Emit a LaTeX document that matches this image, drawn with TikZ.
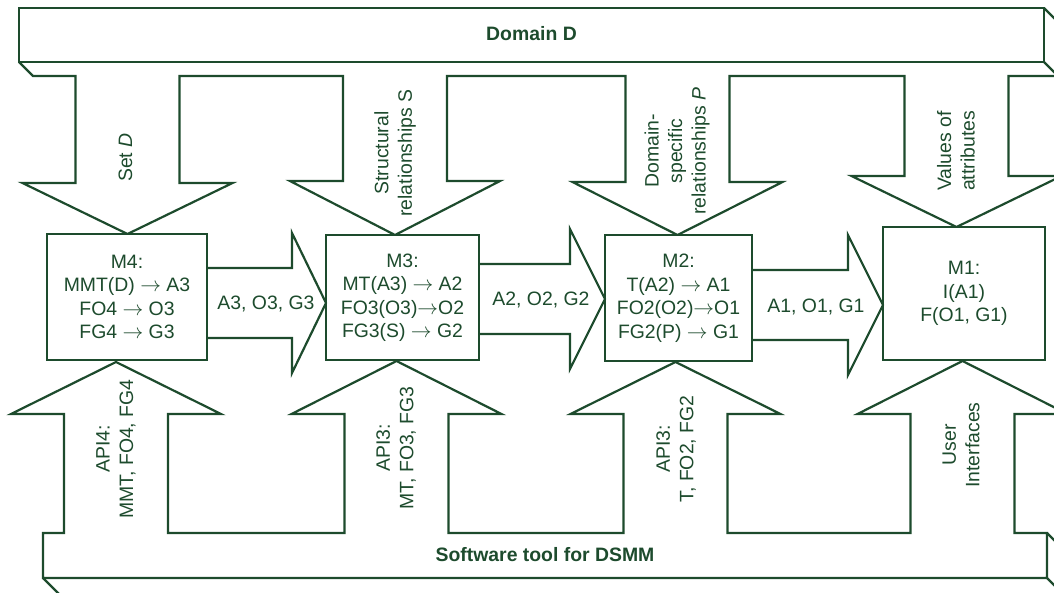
\documentclass[tikz,border=0pt]{standalone}
\usepackage{fontspec}
\setmainfont{Liberation Sans}
\usepackage{xcolor}
\usepackage{tikz}

\definecolor{dsgreen}{RGB}{29,75,45}
\newcommand{\gives}{$\rightarrow$}

\begin{document}
\begin{tikzpicture}[
  x=1pt, y=-1pt,
  line width=2.2pt,
  every node/.style={text=dsgreen,font=\fontsize{19.4}{23.5}\selectfont},
  module/.style={draw=dsgreen,line width=2.2pt,fill=white,align=center,inner sep=0pt},
  blockline/.style={draw=dsgreen,line join=miter},
  vtext/.style={rotate=90,align=center},
  bartext/.style={font=\fontsize{19.4}{23.5}\selectfont\bfseries}
]
  \useasboundingbox (0,0) rectangle (1054,592);
  \clip (0,0) rectangle (1054,592);

  % Domain bar with the four inputs going down
  \draw[blockline] (19,8) rectangle (1044,62);
  \draw[blockline] (1044,62) -- (1058,76);
  \draw[blockline] (19,62) -- (33,76)
    \foreach \c/\h/\t in {127.5/183/234, 395/181/235, 677.5/182/235, 956.5/176/227}
      { -- (\c-52,76) -- (\c-52,\h) -- (\c-105,\h) -- (\c,\t) -- (\c+105,\h) -- (\c+52,\h) -- (\c+52,76) }
    -- (1058,76) -- (1058,22) -- (1044,8);

  % Tool bar with the four inputs going up
  \draw[blockline] (43,533)
    \foreach \c/\t in {116/362, 396.5/361, 675.5/362, 962.5/361}
      { -- (\c-52,533) -- (\c-52,414) -- (\c-105,414) -- (\c,\t) -- (\c+105,414) -- (\c+52,414) -- (\c+52,533) }
    -- (1047,533) -- (1047,578) -- (43,578) -- cycle;
  \draw[blockline] (43,578) -- ++(16,16) (1047,533) -- ++(16,16) (1047,578) -- ++(16,16);

  % Modules
  \node[module,minimum width=160pt,minimum height=126pt] (m4) at (127,297)
    {M4:\\MMT(D) \gives{} A3\\FO4 \gives{} O3\\FG4 \gives{} G3};
  \node[module,minimum width=153pt,minimum height=125pt] (m3) at (402.5,297.5)
    {M3:\\MT(A3) \gives{} A2\\FO3(O3)\gives{}O2\\FG3(S) \gives{} G2};
  \node[module,minimum width=147pt,minimum height=126pt] (m2) at (678.5,298)
    {M2:\\T(A2) \gives{} A1\\FO2(O2)\gives{}O1\\FG2(P) \gives{} G1};
  \node[module,minimum width=162pt,minimum height=133pt] (m1) at (964,293.5)
    {M1:\\I(A1)\\F(O1, G1)};

  % Results handed from one module to the next
  \foreach \a/\h/\b/\y in {207/292/326/303, 479/570/605/299, 752/848/883/305}
    \draw[blockline] (\a,\y-35) -- (\h,\y-35) -- (\h,\y-70) -- (\b,\y)
      -- (\h,\y+70) -- (\h,\y+35) -- (\a,\y+35);

  \node[anchor=base] (l3) at (266,309) {A3, O3, G3};
  \node[anchor=base] (l2) at (541,305) {A2, O2, G2};
  \node[anchor=base] (l1) at (816,312) {A1, O1, G1};

  % Bar labels
  \node[bartext] (domain) at (531.5,34) {Domain D};
  \node[bartext] (tool) at (545,555) {Software tool for DSMM};

  % Labels of the inputs
  \node[vtext] (setd) at (125.5,157.5) {Set \textit{D}};
  \node[vtext] (struct) at (395,153) {Structural\\relationships S};
  \node[vtext] (dspec) at (677,151) {Domain-\\specific\\relationships \textit{P}};
  \node[vtext] (vals) at (956,151) {Values of\\attributes};
  \node[vtext] (api4) at (116,449) {API4:\\MMT, FO4, FG4};
  \node[vtext] (api3) at (396,448) {API3:\\MT, FO3, FG3};
  \node[vtext] (api2) at (676,449) {API3:\\T, FO2, FG2};
  \node[vtext] (ui) at (961,445) {User\\Interfaces};
\end{tikzpicture}
\end{document}
